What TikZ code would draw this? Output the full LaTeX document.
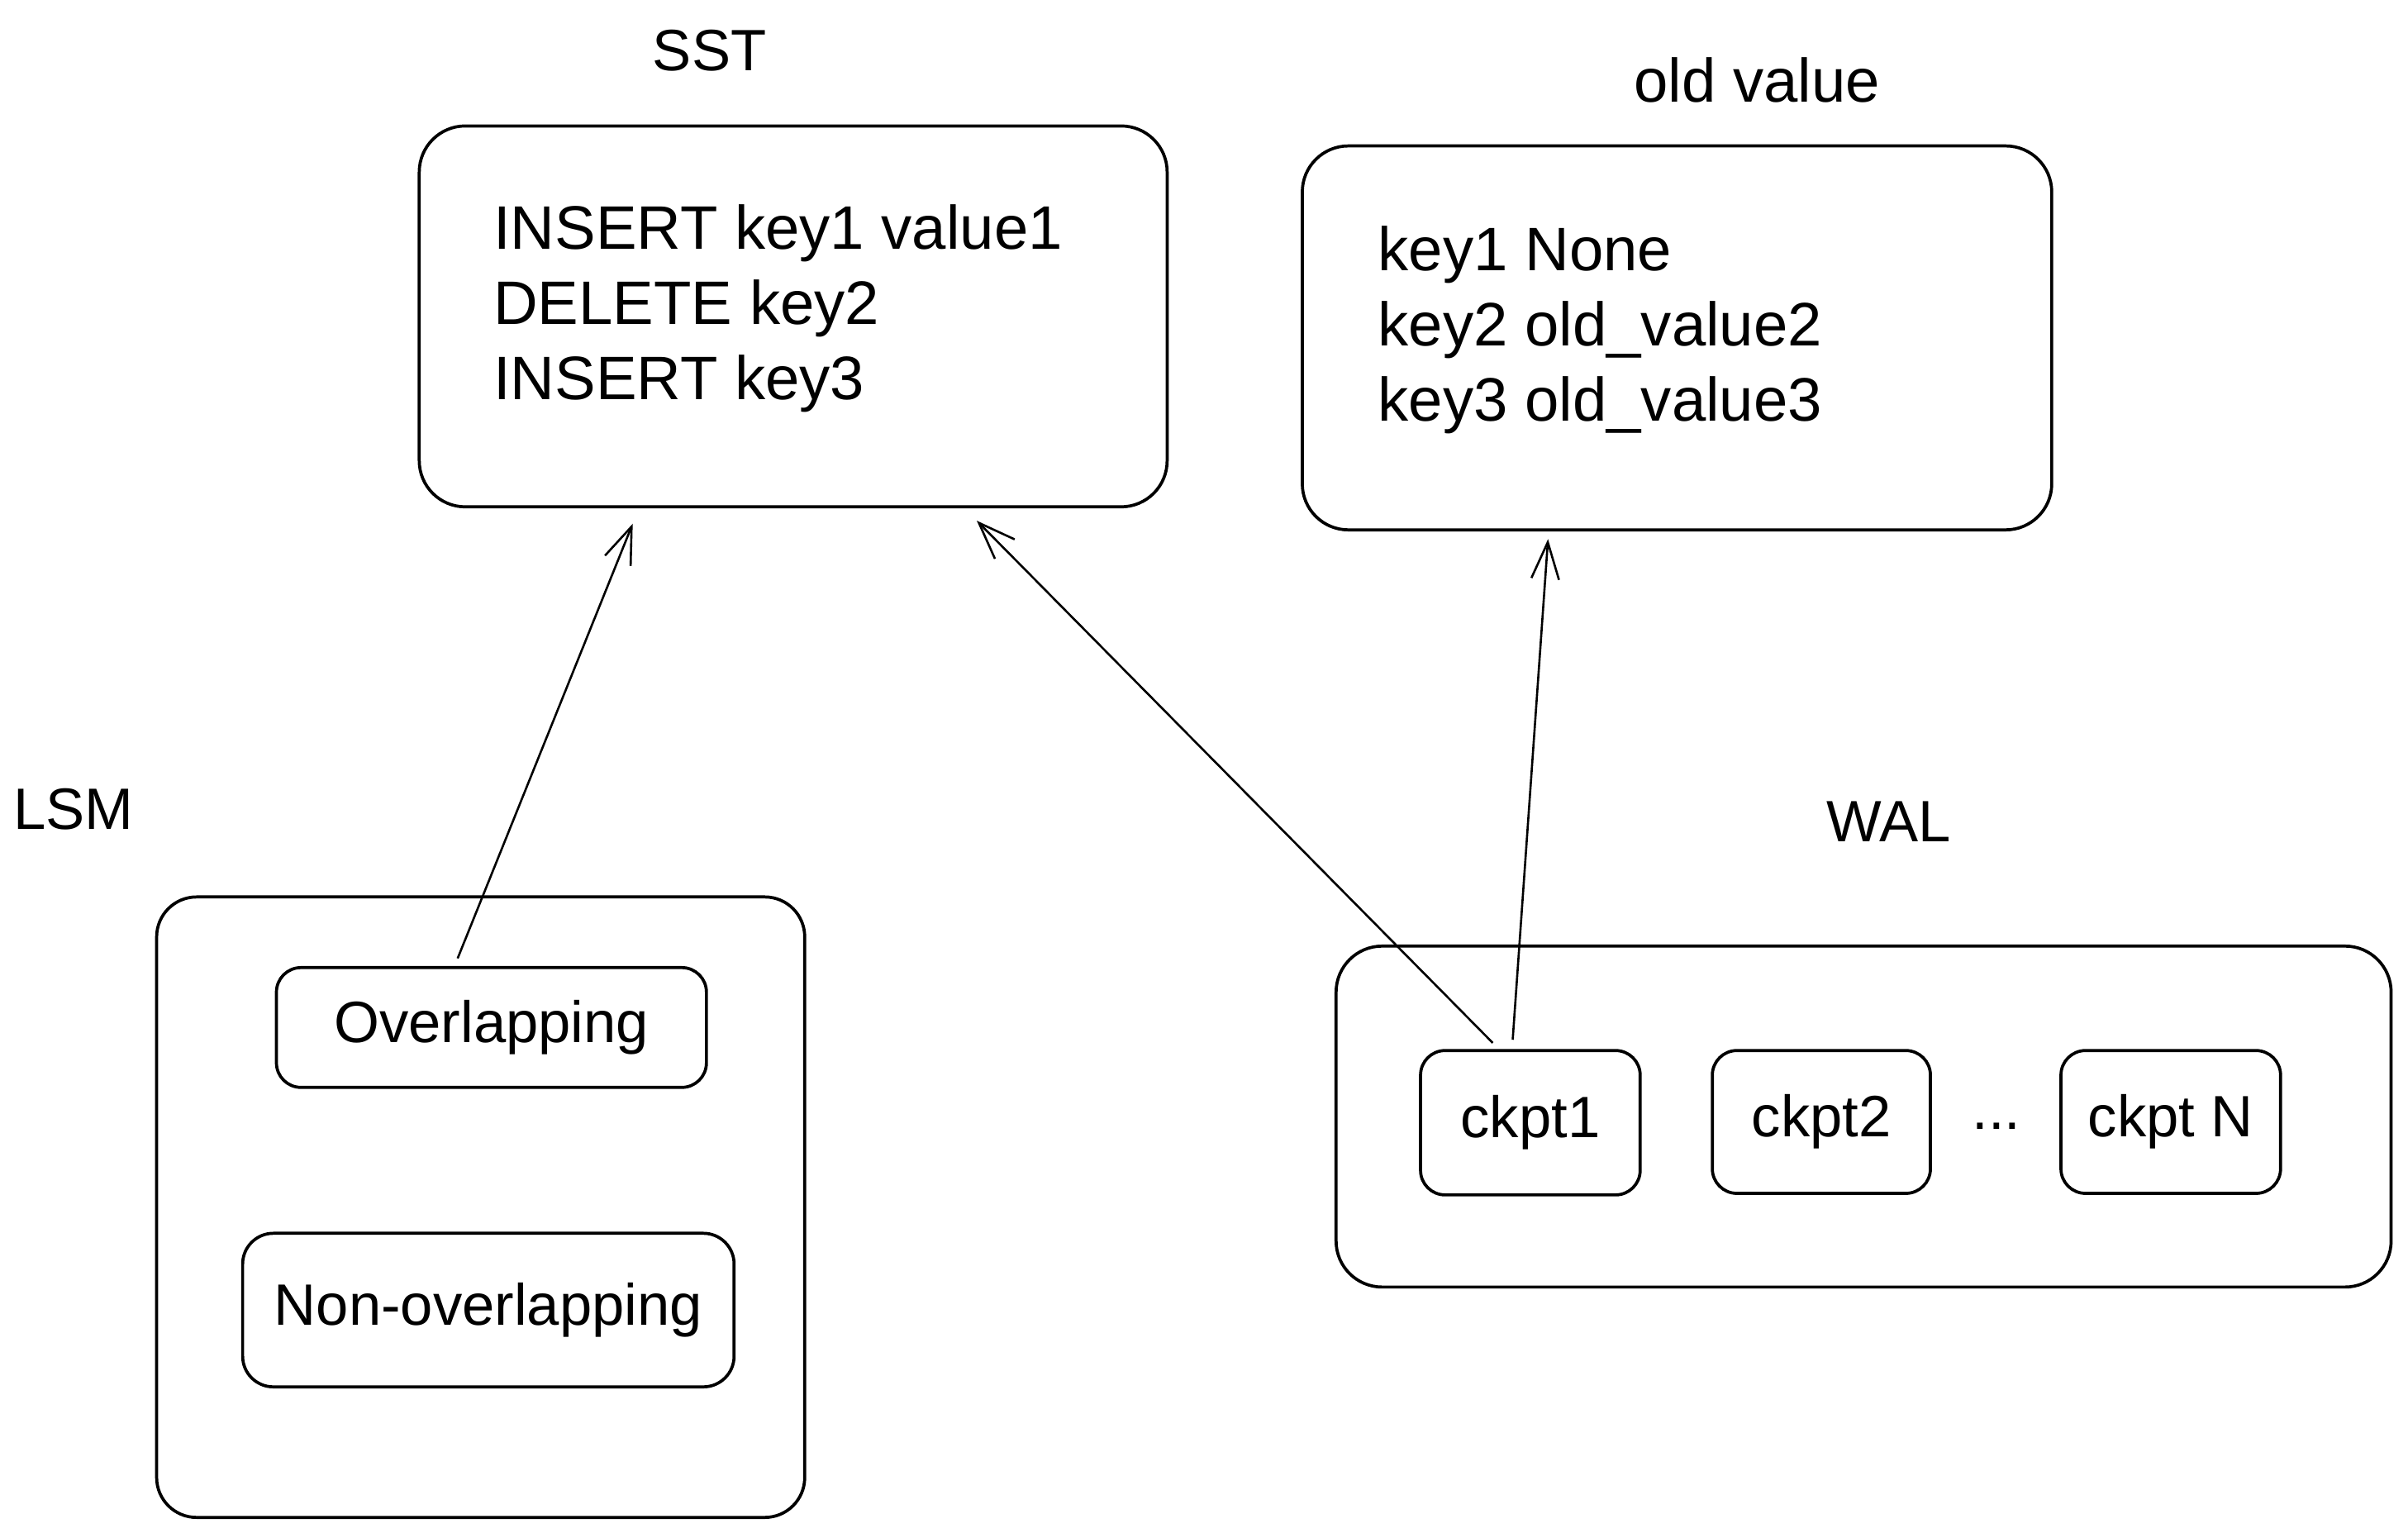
\documentclass[tikz,border=0pt]{standalone}
\usepackage{fontspec}
\setmainfont{Liberation Sans}
\usetikzlibrary{arrows.meta,calc}
\tikzset{
  bigbox/.style={draw, line width=1pt, rounded corners=15pt, inner sep=0pt},
  smallbox/.style={draw, line width=1pt, rounded corners=8pt, inner sep=0pt, font=\fontsize{19}{23}\selectfont},
  lbl/.style={inner sep=0pt, font=\fontsize{19}{23}\selectfont},
  body/.style={inner sep=0pt, align=left, font=\fontsize{20}{24.5}\selectfont},
  arr/.style={line width=0.7pt, -{Straight Barb[length=12pt,width=9pt,line width=0.7pt]}}
}
\begin{document}
\begin{tikzpicture}[x=0.5pt,y=-0.5pt]
\useasboundingbox (0,0) rectangle (1568,998);
% labels
\node[lbl] (lsst) at (462,33) {SST};
\node[lbl, font=\fontsize{20}{24}\selectfont] (lold) at (1144,52) {old value};
\node[lbl] (llsm) at (48,527) {LSM};
\node[lbl] (lwal) at (1230,535) {WAL};
% SST box
\node[bigbox, minimum width=243.5pt, minimum height=124pt] (sst) at (516.5,206) {};
\node[body, anchor=north west] (ssttext) at (321,133) {INSERT key1 value1\\DELETE key2\\INSERT key3};
% old value box
\node[bigbox, minimum width=244pt, minimum height=125pt] (old) at (1092,220) {};
\node[body, anchor=north west] (oldtext) at (897,147) {key1 None\\key2 old\_value2\\key3 old\_value3};
% LSM
\node[bigbox, rounded corners=13pt, minimum width=211pt, minimum height=202pt] (lsm) at (313,786) {};
\node[smallbox, minimum width=140pt, minimum height=39pt] (ovl) at (320,669) {Overlapping};
\node[smallbox, rounded corners=10pt, minimum width=160pt, minimum height=50pt] (novl) at (318,853) {Non-overlapping};
% WAL
\node[bigbox, minimum width=343.5pt, minimum height=111pt] (wal) at (1213.5,727) {};
\node[smallbox, minimum width=71.5pt, minimum height=47pt] (ck1) at (996.5,731) {ckpt1};
\node[smallbox, minimum width=71pt, minimum height=46.5pt] (ck2) at (1186,730.5) {ckpt2};
\node[lbl] (dots) at (1300,733) {...};
\node[smallbox, minimum width=71.5pt, minimum height=46.5pt] (ckn) at (1413.5,730.5) {ckpt N};
% arrows
\draw[arr] ($(ovl.north)+(-22,-5)$) -- ($(sst.south)+(-104.5,10)$);
\draw[arr] ($(ck1.north)+(-24.5,-4)$) -- ($(sst.south)+(119.5,8)$);
\draw[arr] ($(ck1.north)+(-11.5,-6)$) -- ($(old.south)+(-84,5)$);
\end{tikzpicture}
\end{document}
